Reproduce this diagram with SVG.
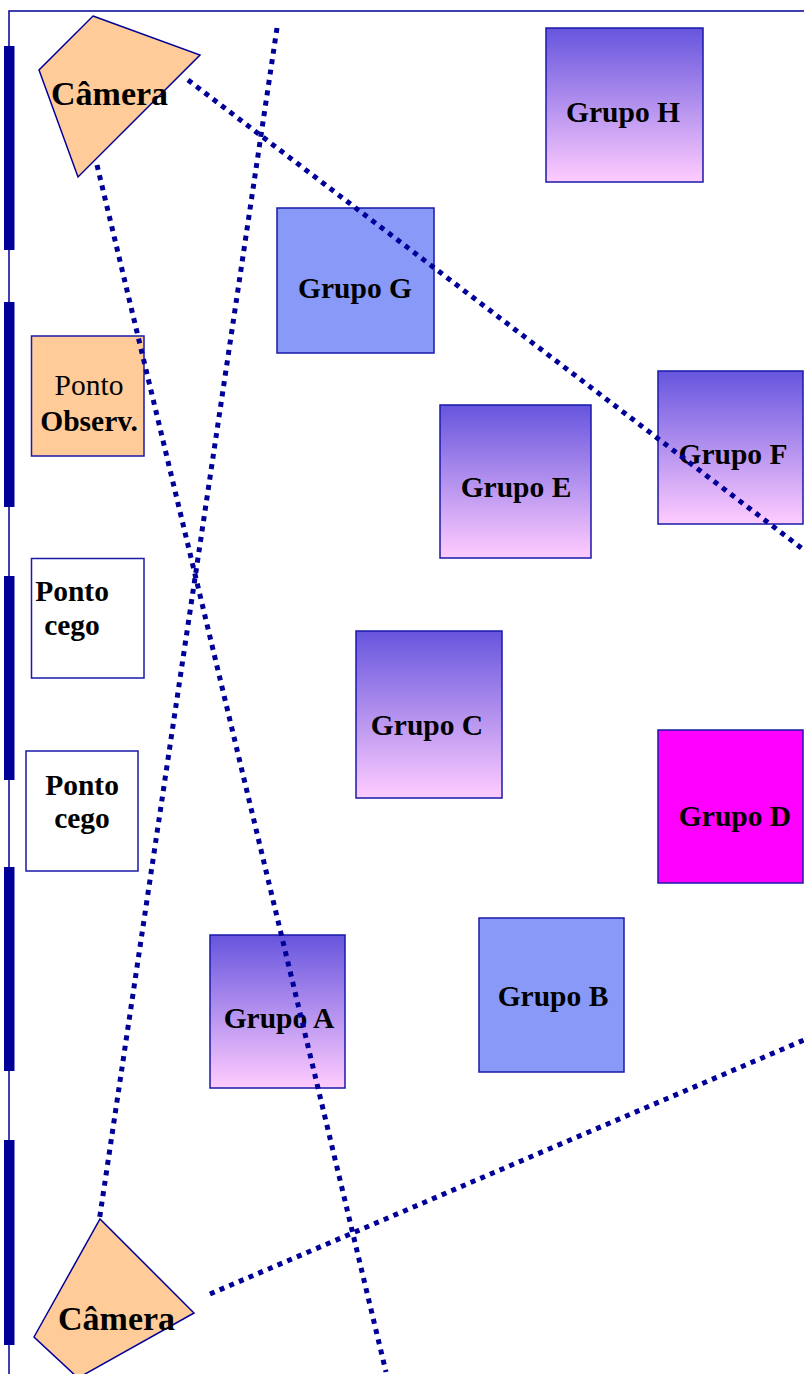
<svg xmlns="http://www.w3.org/2000/svg" width="804" height="1374" viewBox="0 0 804 1374">
<style>
.bx{stroke:#1a1aaa;stroke-width:1.5}
.g{fill:url(#grad)}
.lb{fill:#8899f8}
.t{font-family:"Liberation Serif","DejaVu Serif",serif;font-weight:bold;font-size:29.5px;fill:#000;text-anchor:middle}
.n{font-weight:normal}
.cam{fill:#ffcc99;stroke:#000099;stroke-width:1.5}
.ct{font-family:"Liberation Serif","DejaVu Serif",serif;font-weight:bold;font-size:34px;fill:#000}
.dl{fill:none;stroke:#000099;stroke-width:5;stroke-dasharray:5 5.5}
.bar{fill:#000099}
</style>
<defs>
<linearGradient id="grad" x1="0" y1="0" x2="0" y2="1">
<stop offset="0" stop-color="#6655dd"/>
<stop offset="1" stop-color="#ffccff"/>
</linearGradient>
</defs>
<g id="frame">
<path d="M9,1374 V11 H804" fill="none" stroke="#000099" stroke-width="1.5"/>
<rect class="bar" x="4" y="46" width="10.5" height="204"/>
<rect class="bar" x="4" y="302" width="10.5" height="205"/>
<rect class="bar" x="4" y="576" width="10.5" height="204"/>
<rect class="bar" x="4" y="867" width="10.5" height="204"/>
<rect class="bar" x="4" y="1140" width="10.5" height="205"/>
</g>
<g id="grupoH"><rect class="bx g" x="546" y="28" width="157" height="154"/><text class="t" x="623" y="122">Grupo H</text></g>
<g id="grupoG"><rect class="bx lb" x="277" y="208" width="157" height="145"/><text class="t" x="355" y="298">Grupo G</text></g>
<g id="grupoE"><rect class="bx g" x="440" y="405" width="151" height="153"/><text class="t" x="516" y="497">Grupo E</text></g>
<g id="grupoF"><rect class="bx g" x="658" y="371" width="145" height="153"/><text class="t" x="733" y="464">Grupo F</text></g>
<g id="grupoC"><rect class="bx g" x="356" y="631" width="146" height="167"/><text class="t" x="427" y="735">Grupo C</text></g>
<g id="grupoD"><rect class="bx" fill="#ff00ff" x="658" y="730" width="145" height="153"/><text class="t" x="735" y="826">Grupo D</text></g>
<g id="grupoB"><rect class="bx lb" x="479" y="918" width="145" height="154"/><text class="t" x="553" y="1006">Grupo B</text></g>
<g id="grupoA"><rect class="bx g" x="210" y="935" width="135" height="153"/><text class="t" x="279" y="1028">Grupo A</text></g>
<g id="pontoObserv"><rect class="bx" fill="#ffcc99" x="31.5" y="336" width="112.5" height="120"/>
<text class="t n" x="89" y="395">Ponto</text>
<text class="t" x="89" y="431">Observ.</text></g>
<g id="pontoCego1"><rect class="bx" fill="#fff" x="31.5" y="558.5" width="112.5" height="119.5"/>
<text class="t" x="72" y="601">Ponto</text><text class="t" x="72" y="635">cego</text></g>
<g id="pontoCego2"><rect class="bx" fill="#fff" x="26" y="751" width="112" height="120"/>
<text class="t" x="82" y="795">Ponto</text><text class="t" x="82" y="828">cego</text></g>
<g id="cameraTop"><polygon class="cam" points="93,16 200,55 78,177 39,70"/><text class="ct" x="51" y="105">Câmera</text></g>
<g id="cameraBottom"><polygon class="cam" points="100,1219 194,1313 78,1378 34,1337"/><text class="ct" x="58" y="1330">Câmera</text></g>
<g id="connectors">
<line class="dl" x1="188" y1="80" x2="804" y2="550"/>
<line class="dl" x1="277" y1="28" x2="99" y2="1222"/>
<line class="dl" x1="97" y1="165" x2="386" y2="1372"/>
<line class="dl" x1="210" y1="1294" x2="804" y2="1040"/>
</g>
</svg>
